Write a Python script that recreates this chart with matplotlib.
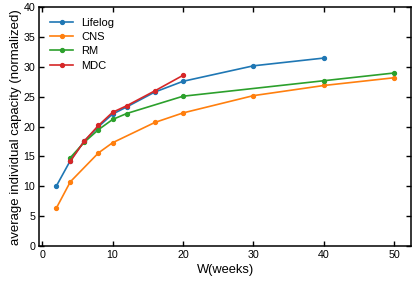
import matplotlib
matplotlib.use("Agg")
import matplotlib.pyplot as plt

plt.rcParams['font.family'] = ['Liberation Sans', 'DejaVu Sans']

lifelog_x = [2, 4, 6, 8, 10, 12, 16, 20, 30, 40]
lifelog_y = [10.0, 14.3, 17.6, 20.0, 22.1, 23.3, 25.8, 27.6, 30.2, 31.5]
cns_x = [2, 4, 8, 10, 16, 20, 30, 40, 50]
cns_y = [6.3, 10.75, 15.6, 17.3, 20.7, 22.3, 25.2, 26.9, 28.2]
rm_x = [4, 6, 8, 10, 12, 20, 40, 50]
rm_y = [14.8, 17.4, 19.5, 21.2, 22.2, 25.1, 27.7, 29.0]
mdc_x = [4, 6, 8, 10, 12, 16, 20]
mdc_y = [14.2, 17.6, 20.2, 22.4, 23.5, 26.0, 28.6]

series = [("Lifelog", lifelog_x, lifelog_y, "#1f77b4"),
          ("CNS", cns_x, cns_y, "#ff7f0e"),
          ("RM", rm_x, rm_y, "#2ca02c"),
          ("MDC", mdc_x, mdc_y, "#d62728")]

fig = plt.figure(figsize=(4.16, 2.83), dpi=100)
ax = fig.add_axes([0.0945, 0.131, 0.894, 0.843])
for name, xs, ys, c in series:
    ax.plot(xs, ys, marker='o', markersize=2.8, linewidth=1.2, color=c, label=name)

ax.set_ylim(0, 40)
ax.set_xticks([0, 10, 20, 30, 40, 50])
ax.set_yticks([0, 5, 10, 15, 20, 25, 30, 35, 40])
ax.tick_params(direction='in', top=True, right=True, labelsize=7.7, length=3.5, width=1.0, pad=3)
for s in ax.spines.values():
    s.set_linewidth(1.1)
ax.set_xlabel("W(weeks)", fontsize=9.3, labelpad=2.5)
ax.set_ylabel("average individual capacity (normalized)", fontsize=9.5, labelpad=1)
ax.legend(loc='upper left', frameon=False, fontsize=8.0, handlelength=2.1,
          handletextpad=0.7, labelspacing=0.38, borderaxespad=0.55)
fig.savefig("out.png", dpi=100)
